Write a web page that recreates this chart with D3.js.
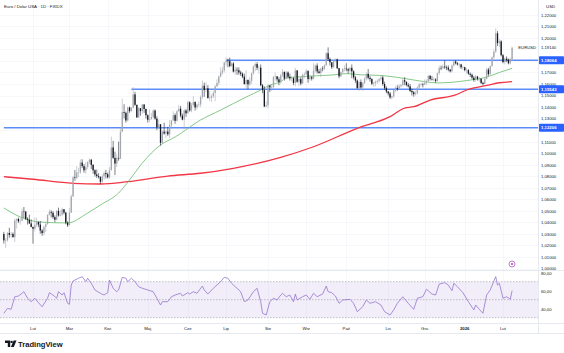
<!DOCTYPE html>
<html>
<head>
<meta charset="utf-8">
<style>
  body { margin: 0; background: #fff; }
  svg { display: block; font-family: "Liberation Sans", Arial, sans-serif; }
</style>
</head>
<body>
<svg width="564" height="353"></svg>
<script src="https://cdn.jsdelivr.net/npm/d3@7"></script>
<script>
// EUR/USD daily, 10 Jan 2025 .. 9 Feb 2026 (bar index = trading day, Dec 25 / Jan 1 skipped)
var firstOpen = 1.0299;
var closes = [
  1.0244,
  1.0245, 1.0308, 1.0292, 1.0300, 1.0273,
  1.0417, 1.0430, 1.0409, 1.0414, 1.0494,
  1.0492, 1.0430, 1.0422, 1.0391, 1.0361,
  1.0345, 1.0379, 1.0403, 1.0381, 1.0329,
  1.0307, 1.0361, 1.0385, 1.0465, 1.0491,
  1.0483, 1.0446, 1.0423, 1.0500, 1.0459,
  1.0465, 1.0514, 1.0485, 1.0398, 1.0375,
  1.0484, 1.0625, 1.0790, 1.0785, 1.0833,
  1.0834, 1.0919, 1.0888, 1.0852, 1.0880,
  1.0922, 1.0943, 1.0899, 1.0852, 1.0816,
  1.0802, 1.0793, 1.0752, 1.0799, 1.0828,
  1.0818, 1.0791, 1.0852, 1.1050, 1.0960,
  1.0910, 1.0959, 1.0953, 1.1186, 1.1357,
  1.1350, 1.1284, 1.1397, 1.1365, 1.1395,
  1.1510, 1.1420, 1.1310, 1.1390, 1.1365,
  1.1423, 1.1384, 1.1329, 1.1290, 1.1298,
  1.1314, 1.1370, 1.1300, 1.1225, 1.1251,
  1.1090, 1.1187, 1.1171, 1.1188, 1.1164,
  1.1242, 1.1284, 1.1330, 1.1281, 1.1363,
  1.1386, 1.1326, 1.1292, 1.1370, 1.1346,
  1.1442, 1.1371, 1.1417, 1.1444, 1.1397,
  1.1421, 1.1423, 1.1487, 1.1585, 1.1549,
  1.1563, 1.1479, 1.1481, 1.1495, 1.1523,
  1.1580, 1.1609, 1.1664, 1.1700, 1.1718,
  1.1787, 1.1802, 1.1798, 1.1756, 1.1778,
  1.1708, 1.1724, 1.1719, 1.1700, 1.1689,
  1.1664, 1.1600, 1.1635, 1.1597, 1.1627,
  1.1694, 1.1753, 1.1773, 1.1741, 1.1741,
  1.1589, 1.1547, 1.1405, 1.1416, 1.1587,
  1.1571, 1.1574, 1.1660, 1.1666, 1.1641,
  1.1617, 1.1676, 1.1705, 1.1648, 1.1700,
  1.1663, 1.1649, 1.1650, 1.1609, 1.1718,
  1.1620, 1.1643, 1.1605, 1.1681, 1.1684,
  1.1712, 1.1643, 1.1659, 1.1647, 1.1717,
  1.1760, 1.1709, 1.1695, 1.1734, 1.1733,
  1.1762, 1.1867, 1.1816, 1.1788, 1.1746,
  1.1803, 1.1815, 1.1737, 1.1667, 1.1703,
  1.1730, 1.1734, 1.1728, 1.1716, 1.1740,
  1.1710, 1.1658, 1.1630, 1.1564, 1.1617,
  1.1570, 1.1607, 1.1646, 1.1688, 1.1654,
  1.1643, 1.1603, 1.1610, 1.1620, 1.1627,
  1.1643, 1.1656, 1.1600, 1.1564, 1.1535,
  1.1518, 1.1484, 1.1493, 1.1546, 1.1566,
  1.1558, 1.1581, 1.1590, 1.1633, 1.1620,
  1.1591, 1.1580, 1.1540, 1.1528, 1.1512,
  1.1520, 1.1569, 1.1596, 1.1598, 1.1597,
  1.1610, 1.1625, 1.1670, 1.1644, 1.1640,
  1.1640, 1.1627, 1.1695, 1.1740, 1.1738,
  1.1752, 1.1745, 1.1742, 1.1725, 1.1710,
  1.1760, 1.1795, 1.1780, 1.1770,
  1.1770, 1.1745, 1.1745, 1.1720,
  1.1720, 1.1690, 1.1680, 1.1655, 1.1635,
  1.1665, 1.1645, 1.1645, 1.1610, 1.1600,
  1.1645, 1.1725, 1.1685, 1.1755, 1.1830,
  1.1880, 1.2040, 1.1955, 1.1970, 1.1850,
  1.1790, 1.1820, 1.1810, 1.1780, 1.1815,
  1.1914
];
var highs = [
  1.0318,
  1.0265, 1.0318, 1.0353, 1.0317, 1.0313,
  1.0434, 1.0432, 1.0442, 1.0439, 1.0521,
  1.0533, 1.0500, 1.0445, 1.0467, 1.0426,
  1.0362, 1.0442, 1.0442, 1.0407, 1.0412,
  1.0342, 1.0372, 1.0404, 1.0470, 1.0513,
  1.0505, 1.0496, 1.0461, 1.0505, 1.0528,
  1.0506, 1.0528, 1.0513, 1.0491, 1.0410,
  1.0525, 1.0641, 1.0804, 1.0854, 1.0888,
  1.0873, 1.0946, 1.0947, 1.0906, 1.0925,
  1.0932, 1.0955, 1.0950, 1.0905, 1.0861,
  1.0858, 1.0827, 1.0801, 1.0817, 1.0842,
  1.0856, 1.0832, 1.0880, 1.1144, 1.1107,
  1.1013, 1.0990, 1.1100, 1.1215, 1.1474,
  1.1425, 1.1361, 1.1405, 1.1405, 1.1400,
  1.1573, 1.1533, 1.1412, 1.1400, 1.1392,
  1.1425, 1.1420, 1.1385, 1.1337, 1.1380,
  1.1350, 1.1380, 1.1380, 1.1320, 1.1290,
  1.1250, 1.1199, 1.1265, 1.1200, 1.1228,
  1.1287, 1.1285, 1.1363, 1.1345, 1.1375,
  1.1419, 1.1410, 1.1345, 1.1385, 1.1382,
  1.1455, 1.1450, 1.1435, 1.1495, 1.1450,
  1.1430, 1.1450, 1.1500, 1.1631, 1.1613,
  1.1614, 1.1590, 1.1540, 1.1510, 1.1540,
  1.1590, 1.1641, 1.1675, 1.1745, 1.1750,
  1.1790, 1.1830, 1.1820, 1.1830, 1.1790,
  1.1790, 1.1750, 1.1745, 1.1745, 1.1715,
  1.1700, 1.1690, 1.1720, 1.1640, 1.1660,
  1.1700, 1.1760, 1.1788, 1.1790, 1.1760,
  1.1770, 1.1600, 1.1580, 1.1450, 1.1600,
  1.1590, 1.1600, 1.1670, 1.1700, 1.1670,
  1.1660, 1.1690, 1.1730, 1.1710, 1.1715,
  1.1710, 1.1690, 1.1670, 1.1660, 1.1740,
  1.1720, 1.1660, 1.1660, 1.1690, 1.1700,
  1.1730, 1.1720, 1.1680, 1.1670, 1.1780,
  1.1770, 1.1780, 1.1730, 1.1745, 1.1755,
  1.1770, 1.1878, 1.1918, 1.1830, 1.1790,
  1.1810, 1.1820, 1.1820, 1.1740, 1.1710,
  1.1740, 1.1760, 1.1780, 1.1740, 1.1750,
  1.1770, 1.1720, 1.1670, 1.1640, 1.1630,
  1.1640, 1.1620, 1.1660, 1.1700, 1.1730,
  1.1670, 1.1650, 1.1620, 1.1630, 1.1640,
  1.1650, 1.1670, 1.1670, 1.1620, 1.1580,
  1.1540, 1.1530, 1.1500, 1.1550, 1.1580,
  1.1590, 1.1600, 1.1600, 1.1650, 1.1660,
  1.1620, 1.1610, 1.1600, 1.1560, 1.1540,
  1.1540, 1.1580, 1.1610, 1.1610, 1.1610,
  1.1640, 1.1640, 1.1680, 1.1680, 1.1670,
  1.1660, 1.1650, 1.1700, 1.1760, 1.1760,
  1.1770, 1.1805, 1.1760, 1.1760, 1.1730,
  1.1770, 1.1800, 1.1808, 1.1790,
  1.1780, 1.1775, 1.1760, 1.1750,
  1.1740, 1.1730, 1.1700, 1.1690, 1.1670,
  1.1680, 1.1670, 1.1660, 1.1650, 1.1620,
  1.1660, 1.1740, 1.1740, 1.1760, 1.1840,
  1.1900, 1.2082, 1.2060, 1.1990, 1.1980,
  1.1860, 1.1830, 1.1840, 1.1820, 1.1830,
  1.1925
];
var lows = [
  1.0215,
  1.0178, 1.0233, 1.0267, 1.0266, 1.0266,
  1.0230, 1.0346, 1.0395, 1.0380, 1.0410,
  1.0437, 1.0420, 1.0381, 1.0388, 1.0357,
  1.0215, 1.0320, 1.0358, 1.0358, 1.0302,
  1.0284, 1.0287, 1.0316, 1.0380, 1.0460,
  1.0443, 1.0430, 1.0401, 1.0418, 1.0450,
  1.0452, 1.0454, 1.0470, 1.0383, 1.0360,
  1.0390, 1.0485, 1.0621, 1.0762, 1.0775,
  1.0793, 1.0820, 1.0870, 1.0830, 1.0822,
  1.0863, 1.0905, 1.0863, 1.0822, 1.0797,
  1.0784, 1.0780, 1.0733, 1.0743, 1.0770,
  1.0781, 1.0780, 1.0776, 1.0852, 1.0950,
  1.0810, 1.0880, 1.0935, 1.0950, 1.1190,
  1.1300, 1.1265, 1.1276, 1.1350, 1.1360,
  1.1390, 1.1410, 1.1307, 1.1310, 1.1325,
  1.1340, 1.1350, 1.1300, 1.1265, 1.1270,
  1.1290, 1.1300, 1.1290, 1.1200, 1.1210,
  1.1065, 1.1080, 1.1160, 1.1130, 1.1150,
  1.1130, 1.1210, 1.1280, 1.1255, 1.1275,
  1.1360, 1.1310, 1.1285, 1.1210, 1.1315,
  1.1345, 1.1360, 1.1355, 1.1405, 1.1370,
  1.1380, 1.1400, 1.1400, 1.1470, 1.1489,
  1.1530, 1.1472, 1.1450, 1.1445, 1.1480,
  1.1450, 1.1575, 1.1590, 1.1660, 1.1680,
  1.1700, 1.1760, 1.1745, 1.1745, 1.1750,
  1.1700, 1.1680, 1.1680, 1.1680, 1.1670,
  1.1650, 1.1595, 1.1560, 1.1555, 1.1585,
  1.1600, 1.1680, 1.1710, 1.1720, 1.1690,
  1.1580, 1.1520, 1.1400, 1.1400, 1.1392,
  1.1530, 1.1540, 1.1560, 1.1630, 1.1620,
  1.1590, 1.1600, 1.1660, 1.1630, 1.1640,
  1.1650, 1.1630, 1.1620, 1.1590, 1.1580,
  1.1610, 1.1580, 1.1590, 1.1600, 1.1650,
  1.1680, 1.1610, 1.1630, 1.1630, 1.1640,
  1.1700, 1.1690, 1.1690, 1.1660, 1.1710,
  1.1720, 1.1760, 1.1800, 1.1760, 1.1730,
  1.1740, 1.1790, 1.1730, 1.1650, 1.1660,
  1.1690, 1.1710, 1.1710, 1.1690, 1.1700,
  1.1650, 1.1640, 1.1610, 1.1560, 1.1540,
  1.1560, 1.1540, 1.1600, 1.1630, 1.1640,
  1.1620, 1.1590, 1.1575, 1.1580, 1.1600,
  1.1610, 1.1630, 1.1585, 1.1550, 1.1520,
  1.1500, 1.1470, 1.1468, 1.1480, 1.1530,
  1.1540, 1.1550, 1.1570, 1.1580, 1.1590,
  1.1580, 1.1570, 1.1530, 1.1500, 1.1490,
  1.1500, 1.1510, 1.1560, 1.1580, 1.1570,
  1.1590, 1.1590, 1.1620, 1.1630, 1.1630,
  1.1620, 1.1610, 1.1620, 1.1680, 1.1720,
  1.1730, 1.1730, 1.1720, 1.1710, 1.1700,
  1.1700, 1.1750, 1.1770, 1.1760,
  1.1740, 1.1730, 1.1720, 1.1710,
  1.1690, 1.1680, 1.1660, 1.1640, 1.1620,
  1.1620, 1.1630, 1.1620, 1.1600, 1.1590,
  1.1600, 1.1640, 1.1670, 1.1680, 1.1750,
  1.1820, 1.1870, 1.1930, 1.1920, 1.1840,
  1.1780, 1.1770, 1.1790, 1.1770, 1.1770,
  1.1800
];

// moving averages (bar index, value)
var ma50Bars = [0, 9, 20, 35, 46, 53, 63, 69, 76, 86, 94, 108, 119, 133, 141, 146, 152, 155, 170, 180, 188, 196, 206, 215, 225, 238, 246, 254, 265, 272, 279];
var ma50Vals = [1.0525, 1.0447, 1.0403, 1.0395, 1.0481, 1.0551, 1.0655, 1.0768, 1.0915, 1.1071, 1.1140, 1.1288, 1.1374, 1.1487, 1.1548, 1.1591, 1.1620, 1.1652, 1.1670, 1.1678, 1.1690, 1.1680, 1.1675, 1.1660, 1.1635, 1.1610, 1.1615, 1.1630, 1.1660, 1.1700, 1.1736];
var ma200Bars = [0, 16, 38, 53, 68, 90, 108, 126, 152, 170, 194, 212, 220, 225, 234, 248, 254, 266, 272, 279];
var ma200Vals = [1.0796, 1.0774, 1.0739, 1.0733, 1.0753, 1.0802, 1.0826, 1.0869, 1.0964, 1.1056, 1.1216, 1.1317, 1.1392, 1.1403, 1.1461, 1.1505, 1.1548, 1.1591, 1.1611, 1.1620];

// RSI(14)
var rsiBars = [0, 2, 4, 6, 8, 10, 11, 13, 15, 17, 19, 21, 24, 25, 27, 29, 30, 32, 33, 35, 36, 37, 38, 41, 43, 45, 46, 48, 50, 53, 55, 57, 58, 60, 62, 63, 65, 67, 68, 70, 72, 74, 76, 79, 82, 84, 86, 87, 90, 92, 94, 97, 98, 101, 102, 104, 106, 109, 110, 112, 115, 119, 121, 123, 125, 128, 130, 132, 134, 137, 139, 141, 142, 144, 146, 148, 150, 152, 153, 155, 157, 159, 160, 161, 164, 166, 168, 170, 172, 175, 177, 178, 180, 182, 184, 186, 190, 192, 194, 197, 199, 201, 204, 207, 209, 212, 214, 216, 219, 222, 225, 227, 230, 232, 235, 237, 239, 242, 244, 246, 247, 249, 252, 255, 258, 259, 261, 263, 265, 267, 270, 271, 272, 274, 276, 278, 279];
var rsiVals = [34.9, 40.4, 39.3, 53.3, 54.1, 57.1, 58.9, 51.6, 47.8, 51.6, 46.7, 42.2, 51.6, 57.8, 55.2, 51.6, 58.9, 55.2, 57.8, 46.0, 44.9, 66.3, 70.8, 73.8, 75.6, 70.0, 73.8, 68.2, 60.8, 57.1, 55.2, 57.8, 71.9, 62.7, 58.9, 60.8, 74.9, 73.8, 70.0, 73.8, 70.0, 64.4, 62.7, 60.8, 58.9, 51.6, 44.1, 47.8, 47.8, 53.3, 55.2, 57.1, 54.1, 57.8, 56.3, 58.9, 57.1, 65.2, 60.8, 56.3, 62.7, 70.0, 74.9, 73.8, 68.2, 62.7, 58.9, 47.8, 49.7, 58.9, 62.7, 47.8, 34.9, 33.0, 47.8, 51.6, 49.7, 55.2, 57.1, 53.3, 55.2, 47.8, 56.3, 49.7, 53.3, 55.2, 50.4, 57.1, 53.3, 56.3, 65.2, 58.9, 57.8, 54.1, 46.0, 49.7, 50.4, 46.0, 36.7, 42.2, 49.7, 46.0, 47.8, 44.1, 36.7, 33.0, 38.6, 46.0, 53.3, 46.0, 39.3, 51.6, 53.3, 61.6, 56.3, 55.2, 67.4, 68.9, 66.3, 60.0, 68.2, 64.4, 57.8, 47.8, 38.6, 44.1, 39.3, 34.9, 55.2, 60.8, 75.6, 66.3, 68.2, 51.6, 53.3, 50.4, 60.0];

// horizontal levels drawn on the chart
var levels = [1.18064, 1.15543, 1.12206];
var levelFrom = [122, 70, 0];
var lastPrice = 1.19140;

// time axis
var monthLabels = ['Lut', 'Mar', 'Kwi', 'Maj', 'Cze', 'Lip', 'Sie', 'Wrz', 'Pa\u017a', 'Lis', 'Gru', '2026', 'Lut'];
var monthBars = [16, 36, 57, 79, 101, 122, 145, 166, 188, 211, 231, 253, 274];
var priceTicks = [1.00, 1.01, 1.02, 1.03, 1.04, 1.05, 1.06, 1.07, 1.08, 1.09, 1.10, 1.11,
                  1.12, 1.13, 1.14, 1.15, 1.16, 1.17, 1.18, 1.19, 1.20, 1.21, 1.22];
var rsiTicks = [80, 60, 40];

var svgElem = d3.select('svg');
var axisX = 538;          // left edge of the right price scale
var paneBottom = 270;     // price pane / rsi pane split
var rsiBottom = 323;      // rsi pane / time axis split
var timeBottom = 333;

var x = d3.scaleLinear().domain([0, 279]).range([3.85, 512.1]);
var y = d3.scaleLinear().domain([1.0, 1.21]).range([268.5, 26.37]);
var yr = d3.scaleLinear().domain([30, 70]).range([317.7, 281.7]);
var comma = function (f) { return function (v) { return d3.format(f)(v).replace('.', ','); }; };

svgElem.append('rect').attr('width', 564).attr('height', 353).attr('fill', '#fff');

// grid
var grid = svgElem.append('g').attr('stroke', '#f0f3fa').attr('stroke-width', 0.6);
grid.selectAll('.hg').data(priceTicks).enter().append('line')
    .attr('x1', 0).attr('x2', axisX)
    .attr('y1', function (d) { return Math.round(y(d)) + 0.5; })
    .attr('y2', function (d) { return Math.round(y(d)) + 0.5; });
grid.selectAll('.vg').data(monthBars).enter().append('line')
    .attr('x1', function (d) { return Math.round(x(d)) + 0.5; })
    .attr('x2', function (d) { return Math.round(x(d)) + 0.5; })
    .attr('y1', 0).attr('y2', rsiBottom);

// pane borders
var borders = svgElem.append('g').attr('stroke', '#e0e3eb').attr('stroke-width', 0.8);
borders.append('line').attr('x1', 0).attr('x2', 564).attr('y1', paneBottom + 0.5).attr('y2', paneBottom + 0.5);
borders.append('line').attr('x1', 0).attr('x2', 564).attr('y1', rsiBottom + 0.5).attr('y2', rsiBottom + 0.5);
borders.append('line').attr('x1', 0).attr('x2', 564).attr('y1', timeBottom + 0.5).attr('y2', timeBottom + 0.5);
borders.append('line').attr('x1', axisX + 0.5).attr('x2', axisX + 0.5).attr('y1', 0).attr('y2', timeBottom);

// price pane clip
svgElem.append('clipPath').attr('id', 'pc').append('rect')
    .attr('x', 0).attr('y', 0).attr('width', axisX).attr('height', paneBottom);
var g = svgElem.append('g').attr('clip-path', 'url(#pc)');

// level lines
g.selectAll('.lvl').data(levels).enter().append('line')
    .attr('x1', function (d, i) { return x(levelFrom[i]); })
    .attr('x2', axisX)
    .attr('y1', function (d) { return y(d); })
    .attr('y2', function (d) { return y(d); })
    .attr('stroke', '#5b8cf7').attr('stroke-width', 1.4);

// moving averages
var maLine = d3.line()
    .x(function (d) { return x(d[0]); })
    .y(function (d) { return y(d[1]); })
    .curve(d3.curveMonotoneX);
g.append('path').datum(d3.zip(ma200Bars, ma200Vals))
    .attr('fill', 'none').attr('stroke', '#f23645').attr('stroke-width', 1.3)
    .attr('d', maLine);
g.append('path').datum(d3.zip(ma50Bars, ma50Vals))
    .attr('fill', 'none').attr('stroke', '#66bb6a').attr('stroke-width', 0.8)
    .attr('d', maLine);

// candles (open = previous close)
var bars = closes.map(function (c, i) {
    var o = i === 0 ? firstOpen : closes[i - 1];
    return { i: i, o: o, c: c, h: Math.max(highs[i], o, c), l: Math.min(lows[i], o, c) };
});
var upCol = '#a3a6ad', downCol = '#131722';
var cg = g.append('g');
cg.selectAll('.wick').data(bars).enter().append('line')
    .attr('x1', function (d) { return x(d.i); })
    .attr('x2', function (d) { return x(d.i); })
    .attr('y1', function (d) { return y(d.h); })
    .attr('y2', function (d) { return y(d.l); })
    .attr('stroke', function (d) { return d.c >= d.o ? upCol : downCol; })
    .attr('stroke-width', 0.55);
cg.selectAll('.body').data(bars).enter().append('rect')
    .attr('x', function (d) { return x(d.i) - 0.65; })
    .attr('width', 1.3)
    .attr('y', function (d) { return y(Math.max(d.o, d.c)); })
    .attr('height', function (d) { return Math.max(0.5, Math.abs(y(d.o) - y(d.c))); })
    .attr('fill', function (d) { return d.c >= d.o ? upCol : downCol; });

// symbol tag near last price
svgElem.append('text').attr('x', 536).attr('y', y(lastPrice)).attr('dy', '0.35em')
    .attr('text-anchor', 'end').attr('font-size', 4.2).attr('fill', '#131722').text('EURUSD');

// event marker
svgElem.append('circle').attr('cx', 512).attr('cy', 264).attr('r', 3)
    .attr('fill', '#fff').attr('stroke', '#ab47bc').attr('stroke-width', 0.7);
svgElem.append('circle').attr('cx', 512).attr('cy', 264).attr('r', 1.1).attr('fill', '#ab47bc');

// rsi pane
var rg = svgElem.append('g');
rg.append('rect').attr('x', 0).attr('width', axisX)
    .attr('y', yr(70)).attr('height', yr(30) - yr(70))
    .attr('fill', 'rgba(126,87,194,0.1)');
rg.selectAll('.rl').data([70, 50, 30]).enter().append('line')
    .attr('x1', 0).attr('x2', axisX)
    .attr('y1', function (d) { return yr(d); }).attr('y2', function (d) { return yr(d); })
    .attr('stroke', '#9598a1').attr('stroke-width', 0.6).attr('stroke-dasharray', '1.5,1.5');
rg.append('path').datum(d3.zip(rsiBars, rsiVals))
    .attr('fill', 'none').attr('stroke', '#9575cd').attr('stroke-width', 0.8)
    .attr('d', d3.line().x(function (d) { return x(d[0]); }).y(function (d) { return yr(d[1]); }));

// right price scale: a tick label is hidden where a price tag sits on it
var tagged = levels.concat([lastPrice]);
var shownTicks = priceTicks.filter(function (t) {
    return tagged.every(function (p) { return Math.abs(y(t) - y(p)) > 5; });
});
var yAxis = svgElem.append('g').attr('transform', 'translate(541,0)')
    .call(d3.axisRight(y).tickValues(shownTicks).tickSize(0).tickPadding(0).tickFormat(comma('.5f')));
yAxis.select('.domain').remove();
yAxis.selectAll('text').attr('font-size', 4.2).attr('fill', '#131722').attr('font-family', null);

var rAxis = svgElem.append('g').attr('transform', 'translate(541,0)')
    .call(d3.axisRight(yr).tickValues(rsiTicks).tickSize(0).tickPadding(0).tickFormat(comma('.2f')));
rAxis.select('.domain').remove();
rAxis.selectAll('text').attr('font-size', 4.2).attr('fill', '#131722').attr('font-family', null);

// USD header
svgElem.append('rect').attr('x', axisX + 1).attr('y', 0).attr('width', 25).attr('height', 12).attr('fill', '#fff');
svgElem.append('text').attr('x', 546).attr('y', 8).attr('font-size', 4.4).attr('fill', '#131722').text('USD');

// level tags
var tags = svgElem.selectAll('.tag').data(levels).enter().append('g')
    .attr('transform', function (d) { return 'translate(' + (axisX + 1) + ',' + y(d) + ')'; });
tags.append('rect').attr('x', 0).attr('y', -4).attr('width', 25).attr('height', 8)
    .attr('rx', 0.8).attr('fill', '#2962ff');
tags.append('text').attr('x', 2).attr('dy', '0.35em').attr('font-size', 4.3)
    .attr('font-weight', 'bold').attr('fill', '#fff').text(comma('.5f'));

// last price
svgElem.append('text').attr('x', 541).attr('y', y(lastPrice)).attr('dy', '0.35em')
    .attr('font-size', 4.2).attr('fill', '#131722').text(comma('.5f')(lastPrice));

// time axis
svgElem.append('g').selectAll('text').data(monthBars).enter().append('text')
    .attr('x', function (d) { return x(d); })
    .attr('y', 328).attr('dy', '0.35em')
    .attr('text-anchor', 'middle').attr('font-size', 4.3).attr('fill', '#131722')
    .attr('font-weight', function (d, i) { return monthLabels[i] === '2026' ? 'bold' : null; })
    .text(function (d, i) { return monthLabels[i]; });

// title
svgElem.append('text').attr('x', 4).attr('y', 8).attr('font-size', 4.3).attr('fill', '#131722')
    .text('Euro / Dolar USA \u00b7 1D \u00b7 FXIDX');

// TradingView logo
var logo = svgElem.append('g').attr('fill', '#131722');
logo.append('path').attr('d', 'M5,340.6 h5.2 v6.4 h-2.4 v-4 h-2.8 z');
logo.append('circle').attr('cx', 11.6).attr('cy', 341.9).attr('r', 1.2);
logo.append('path').attr('d', 'M13.6,340.6 h2.9 l-2.7,6.4 h-2.9 z');
logo.append('text').attr('x', 18).attr('y', 346.6).attr('font-size', 7.6)
    .attr('font-weight', 'bold').text('TradingView');
</script>
</body>
</html>
